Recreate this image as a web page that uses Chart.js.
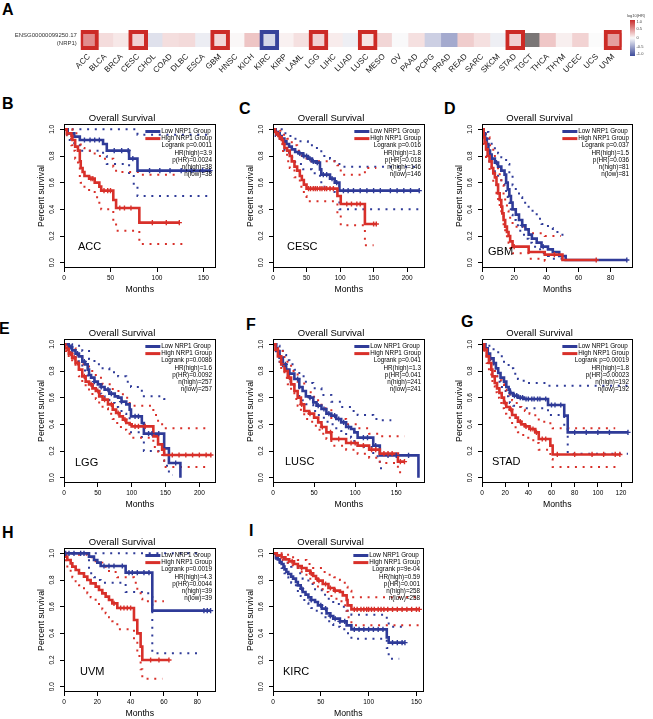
<!DOCTYPE html>
<html>
<head>
<meta charset="utf-8">
<title>NRP1 survival</title>
<script src="https://cdn.jsdelivr.net/npm/chart.js@4.4.1/dist/chart.umd.min.js"></script>
<style>
  html, body { margin: 0; padding: 0; background: #fff; }
  body { position: relative; width: 653px; height: 719px; overflow: hidden; font-family: "Liberation Sans", Arial, sans-serif; }
  canvas { position: absolute; }
  .tag { position: absolute; font-size: 16px; line-height: 16px; font-weight: bold; color: #000; }
</style>
</head>
<body>
<div class="tag" style="left:2px;top:2px">A</div>
<div class="tag" style="left:2px;top:96px">B</div>
<div class="tag" style="left:239px;top:101px">C</div>
<div class="tag" style="left:444px;top:101px">D</div>
<div class="tag" style="left:-1px;top:321px">E</div>
<div class="tag" style="left:246px;top:317px">F</div>
<div class="tag" style="left:461px;top:314px">G</div>
<div class="tag" style="left:2px;top:525px">H</div>
<div class="tag" style="left:249px;top:523px">I</div>

<canvas id="heat"></canvas>
<canvas id="pB"></canvas>
<canvas id="pC"></canvas>
<canvas id="pD"></canvas>
<canvas id="pE"></canvas>
<canvas id="pF"></canvas>
<canvas id="pG"></canvas>
<canvas id="pH"></canvas>
<canvas id="pI"></canvas>

<script>
// ---- panel A: log10(HR) of NRP1 per cancer type ----
const cancers = ['ACC', 'BLCA', 'BRCA', 'CESC', 'CHOL', 'COAD', 'DLBC', 'ESCA', 'GBM', 'HNSC', 'KICH',
  'KIRC', 'KIRP', 'LAML', 'LGG', 'LIHC', 'LUAD', 'LUSC', 'MESO', 'OV', 'PAAD', 'PCPG', 'PRAD', 'READ',
  'SARC', 'SKCM', 'STAD', 'TGCT', 'THCA', 'THYM', 'UCEC', 'UCS', 'UVM'];
const logHR = [0.53, 0.15, 0.09, 0.2, -0.15, 0.14, 0.16, -0.08, 0.18, 0.02, 0.26,
  -0.2, 0.05, 0.13, 0.2, 0.07, -0.07, 0.11, 0.18, -0.01, 0.13, -0.25, -0.46, 0.22,
  0.13, -0.07, 0.2, null, 0.25, 0.06, 0.19, 0.0, 0.45];
const sigHigh = ['ACC', 'CESC', 'GBM', 'LGG', 'LUSC', 'STAD', 'UVM'];
const sigLow = ['KIRC'];
const hrLegendTicks = [1, 0.5, 0, -0.5, -1];

// ---- KM curves: [months, survival] ----
const yTicks = [0, 0.2, 0.4, 0.6, 0.8, 1.0];

// ACC
const accXTicks = [0, 50, 100, 150];
const accLow = [[0,1],[4,0.97],[11,0.945],[17,0.92],[42,0.89],[46,0.84],[70,0.78],[79,0.69],[157,0.69]];
const accHigh = [[0,1],[3,0.97],[8,0.95],[9,0.92],[12,0.87],[15,0.84],[17,0.76],[18,0.71],[20,0.68],[22,0.65],[27,0.63],[33,0.60],[38,0.57],[40,0.54],[53,0.47],[56,0.41],[81,0.30],[124,0.30]];
const accLowUp = [[0,1],[70,1],[79,0.96],[157,0.96]];
const accLowDn = [[0,1],[4,0.92],[11,0.88],[17,0.84],[42,0.80],[46,0.74],[70,0.65],[75,0.58],[79,0.50],[157,0.50]];
const accHighUp = [[0,1],[9,0.99],[12,0.97],[15,0.95],[17,0.90],[18,0.86],[22,0.84],[33,0.80],[40,0.78],[53,0.72],[56,0.68],[81,0.66],[124,0.66]];
const accHighDn = [[0,1],[3,0.93],[8,0.88],[9,0.84],[12,0.78],[15,0.72],[17,0.64],[18,0.60],[20,0.58],[22,0.56],[27,0.53],[33,0.49],[38,0.44],[40,0.40],[53,0.31],[56,0.24],[81,0.14],[128,0.14]];
const accLowCens = [22,28,33,38,54,62,69,74,92,103,114,126,137,149,157];
const accHighCens = [29,31,43,47,50,60,65,72,95,110,124];
const accStats = ['Logrank p=0.0011', 'HR(high)=3.9', 'p(HR)=0.0024', 'n(high)=38', 'n(low)=38'];

// CESC
const cescXTicks = [0, 50, 100, 150, 200];
const cescLow = [[0,1],[4,0.98],[7,0.97],[10,0.95],[13,0.93],[17,0.91],[20,0.89],[24,0.87],[28,0.85],[33,0.83],[38,0.82],[45,0.80],[52,0.78],[58,0.76],[64,0.75],[70,0.70],[72,0.66],[85,0.63],[92,0.60],[99,0.54],[218,0.54]];
const cescHigh = [[0,1],[3,0.98],[5,0.97],[8,0.95],[10,0.94],[13,0.92],[15,0.89],[17,0.86],[21,0.84],[25,0.80],[28,0.76],[32,0.72],[36,0.69],[40,0.65],[43,0.62],[46,0.585],[50,0.555],[96,0.50],[101,0.44],[137,0.29],[154,0.29]];
const cescLowUp = [[0,1],[7,1],[13,0.97],[20,0.95],[28,0.93],[38,0.91],[52,0.88],[64,0.86],[72,0.80],[85,0.78],[92,0.76],[99,0.72],[218,0.72]];
const cescLowDn = [[0,1],[4,0.95],[10,0.90],[17,0.84],[24,0.79],[33,0.74],[45,0.70],[58,0.67],[70,0.62],[72,0.57],[85,0.53],[92,0.50],[99,0.40],[218,0.40]];
const cescHighUp = [[0,1],[5,1],[10,0.99],[15,0.96],[21,0.93],[28,0.88],[36,0.84],[43,0.80],[50,0.76],[96,0.73],[101,0.66],[137,0.71],[154,0.71]];
const cescHighDn = [[0,1],[5,0.93],[10,0.89],[15,0.82],[21,0.76],[25,0.71],[32,0.64],[40,0.57],[46,0.50],[50,0.46],[96,0.37],[101,0.28],[137,0.13],[150,0.13]];
const cescLowCens = [40,46,50,55,60,66,75,80,88,95,105,112,120,130,140,150,160,175,185,195,205,218];
const cescHighCens = [53,56,60,63,66,70,73,77,80,85,90,110,117,125,130,150,154];
const cescStats = ['Logrank p=0.016', 'HR(high)=1.8', 'p(HR)=0.018', 'n(high)=146', 'n(low)=146'];

// GBM
const gbmXTicks = [0, 20, 40, 60, 80];
const gbmLow = [[0,1],[1,0.97],[2,0.93],[3,0.89],[4,0.84],[5,0.81],[6,0.78],[8,0.75],[10,0.72],[12,0.69],[14,0.66],[15,0.60],[16,0.55],[17,0.50],[18,0.45],[19,0.40],[21,0.36],[23,0.32],[25,0.28],[27,0.25],[29,0.21],[31,0.18],[34,0.15],[37,0.12],[41,0.10],[44,0.08],[48,0.05],[52,0.02],[90,0.02]];
const gbmHigh = [[0,1],[1,0.94],[1.6,0.90],[2.5,0.85],[3.5,0.80],[4.7,0.76],[6,0.71],[7,0.67],[8,0.64],[9,0.585],[10,0.52],[11,0.47],[12,0.42],[12.6,0.37],[13.4,0.32],[14.4,0.27],[15.5,0.23],[16.5,0.20],[17.5,0.16],[19,0.12],[29,0.08],[39,0.06],[50,0.02],[71,0.02]];
const gbmLowUp = [[0,1],[2,0.98],[4,0.93],[6,0.88],[8,0.85],[10,0.82],[12,0.79],[15,0.74],[17,0.66],[19,0.58],[21,0.53],[23,0.49],[25,0.45],[29,0.39],[34,0.33],[37,0.29],[41,0.26],[44,0.23],[48,0.21],[50,0.16]];
const gbmLowDn = [[0,1],[1,0.92],[2,0.86],[3,0.80],[4,0.76],[6,0.71],[8,0.67],[10,0.63],[12,0.59],[14,0.55],[15,0.50],[16,0.45],[17,0.40],[18,0.36],[19,0.32],[21,0.28],[23,0.24],[25,0.21],[27,0.18],[29,0.15],[31,0.12],[34,0.10],[37,0.07],[41,0.05],[44,0.03],[50,0.03]];
const gbmHighUp = [[0,1],[1,0.99],[2.5,0.94],[4.7,0.88],[7,0.80],[9,0.74],[10,0.68],[11,0.63],[12,0.58],[13.4,0.50],[14.4,0.44],[15.5,0.39],[16.5,0.35],[17.5,0.31],[19,0.27],[29,0.22],[39,0.20],[49,0.20]];
const gbmHighDn = [[0,1],[1,0.88],[2.5,0.77],[4.7,0.68],[7,0.60],[9,0.52],[10,0.45],[11,0.40],[12,0.35],[13.4,0.27],[14.4,0.22],[15.5,0.18],[16.5,0.15],[17.5,0.11],[19,0.07],[29,0.03],[39,0.015],[40,0.015]];
const gbmLowCens = [9,25,38,90];
const gbmHighCens = [20,45,71];
const gbmStats = ['Logrank p=0.037', 'HR(high)=1.5', 'p(HR)=0.036', 'n(high)=81', 'n(low)=81'];

// LGG
const lggXTicks = [0, 50, 100, 150, 200];
const lggLow = [[0,1],[7,0.98],[12,0.955],[17,0.93],[22,0.91],[27,0.87],[31,0.85],[35,0.81],[37,0.77],[40,0.75],[45,0.72],[50,0.70],[55,0.68],[60,0.66],[67,0.63],[75,0.61],[80,0.60],[85,0.57],[92,0.55],[97,0.51],[99,0.46],[115,0.41],[118,0.33],[148,0.22],[155,0.11],[172,0]];
const lggHigh = [[0,1],[2,0.97],[7,0.93],[12,0.90],[17,0.86],[22,0.81],[27,0.76],[32,0.72],[37,0.70],[42,0.67],[47,0.65],[52,0.61],[57,0.585],[65,0.55],[72,0.51],[77,0.485],[82,0.46],[87,0.435],[92,0.41],[97,0.40],[100,0.385],[132,0.31],[139,0.25],[145,0.21],[148,0.17],[217,0.17]];
const lggLowUp = [[0,1],[12,0.99],[27,0.95],[37,0.89],[45,0.85],[55,0.82],[67,0.79],[80,0.76],[92,0.72],[99,0.68],[115,0.64],[118,0.61],[148,0.59],[150,0.59]];
const lggLowDn = [[0,1],[7,0.96],[12,0.93],[17,0.90],[22,0.87],[27,0.82],[31,0.79],[35,0.75],[37,0.71],[40,0.69],[45,0.66],[50,0.63],[55,0.61],[60,0.59],[67,0.56],[75,0.53],[80,0.52],[85,0.48],[92,0.46],[97,0.41],[99,0.34],[115,0.28],[118,0.20],[148,0.09],[155,0.02],[160,0.02]];
const lggHighUp = [[0,1],[7,0.97],[17,0.92],[27,0.85],[37,0.80],[47,0.75],[57,0.70],[72,0.65],[87,0.60],[97,0.56],[100,0.54],[132,0.47],[139,0.41],[145,0.38],[148,0.37],[217,0.37]];
const lggHighDn = [[0,1],[2,0.95],[7,0.90],[12,0.86],[17,0.82],[22,0.76],[27,0.71],[32,0.67],[37,0.64],[42,0.61],[47,0.59],[52,0.55],[57,0.52],[65,0.48],[72,0.44],[77,0.41],[82,0.38],[87,0.36],[92,0.34],[97,0.32],[100,0.30],[132,0.23],[139,0.17],[145,0.13],[148,0.08],[217,0.08]];
const lggLowCens = [10,20,30,45,55,65,70,85,105,110,125,130,140,165];
const lggHighCens = [5,10,15,20,30,40,50,60,70,80,90,105,110,120,160,170,180,190,200,210,217];
const lggStats = ['Logrank p=0.0086', 'HR(high)=1.6', 'p(HR)=0.0092', 'n(high)=257', 'n(low)=257'];

// LUSC
const luscXTicks = [0, 50, 100, 150];
const luscLow = [[0,1],[4,0.95],[8,0.90],[12,0.85],[16,0.81],[20,0.78],[26,0.74],[32,0.68],[36,0.65],[40,0.61],[45,0.60],[49,0.565],[53,0.54],[59,0.515],[65,0.48],[71,0.465],[77,0.44],[83,0.415],[89,0.38],[95,0.365],[99,0.34],[103,0.30],[122,0.24],[130,0.167],[177,0]];
const luscHigh = [[0,1],[3,0.96],[6,0.91],[10,0.85],[14,0.80],[18,0.75],[22,0.70],[26,0.65],[30,0.60],[34,0.55],[38,0.50],[44,0.48],[50,0.45],[55,0.415],[59,0.38],[65,0.34],[71,0.29],[89,0.26],[103,0.24],[117,0.21],[130,0.18],[152,0.12],[160,0.12]];
const luscLowUp = [[0,1],[4,0.99],[8,0.96],[12,0.92],[16,0.88],[20,0.85],[26,0.81],[32,0.76],[40,0.71],[49,0.67],[59,0.62],[71,0.57],[83,0.53],[95,0.50],[103,0.47],[122,0.44],[130,0.43],[144,0.43]];
const luscLowDn = [[0,1],[4,0.92],[8,0.86],[12,0.80],[16,0.76],[20,0.72],[26,0.67],[32,0.61],[36,0.58],[40,0.55],[49,0.50],[53,0.47],[59,0.45],[65,0.42],[71,0.40],[77,0.37],[83,0.35],[89,0.32],[95,0.30],[99,0.27],[103,0.23],[122,0.16],[130,0.07],[137,0.07]];
const luscHighUp = [[0,1],[6,0.95],[14,0.87],[22,0.80],[30,0.72],[38,0.64],[50,0.58],[59,0.52],[71,0.44],[89,0.40],[103,0.37],[117,0.33],[130,0.31],[160,0.31]];
const luscHighDn = [[0,1],[3,0.93],[6,0.87],[10,0.81],[14,0.75],[18,0.70],[22,0.64],[26,0.59],[30,0.54],[34,0.49],[38,0.44],[44,0.42],[50,0.39],[55,0.36],[59,0.33],[65,0.29],[71,0.24],[89,0.21],[103,0.18],[117,0.15],[130,0.11],[152,0.04],[160,0.04]];
const luscLowCens = [15,30,45,55,62,68,75,80,86,92,110,115,125,140,150,165];
const luscHighCens = [20,35,45,60,70,80,95,100,110,120,125,135,140,145,155,160];
const luscStats = ['Logrank p=0.041', 'HR(high)=1.3', 'p(HR)=0.041', 'n(high)=241', 'n(low)=241'];

// STAD
const stadXTicks = [0, 20, 40, 60, 80, 100, 120];
const stadLow = [[0,1],[3,0.97],[5,0.93],[7,0.895],[10,0.86],[12,0.82],[14,0.785],[16,0.75],[19,0.72],[21,0.68],[23,0.66],[24,0.635],[27,0.615],[31,0.60],[36,0.59],[57,0.545],[71,0.465],[74,0.34],[126,0.34]];
const stadHigh = [[0,1],[2,0.96],[4,0.91],[6,0.86],[8,0.81],[9,0.76],[11,0.71],[13,0.67],[15,0.635],[17,0.60],[19,0.56],[21,0.53],[24,0.51],[26,0.47],[29,0.45],[31,0.42],[34,0.40],[37,0.385],[41,0.365],[46,0.34],[49,0.29],[59,0.24],[61,0.174],[119,0.174]];
const stadLowUp = [[0,1],[5,0.99],[10,0.95],[14,0.91],[19,0.86],[23,0.82],[27,0.78],[31,0.74],[36,0.71],[57,0.69],[126,0.69]];
const stadLowDn = [[0,1],[3,0.94],[5,0.89],[7,0.85],[10,0.80],[12,0.76],[14,0.72],[16,0.68],[19,0.65],[21,0.61],[23,0.59],[24,0.56],[27,0.54],[31,0.53],[36,0.52],[57,0.47],[71,0.38],[74,0.18],[126,0.18]];
const stadHighUp = [[0,1],[2,0.99],[4,0.95],[6,0.91],[8,0.87],[11,0.80],[13,0.76],[15,0.73],[17,0.70],[19,0.66],[21,0.63],[24,0.61],[26,0.58],[29,0.56],[31,0.53],[34,0.51],[37,0.50],[41,0.48],[46,0.45],[49,0.42],[59,0.40],[61,0.37],[115,0.37]];
const stadHighDn = [[0,1],[2,0.92],[4,0.86],[6,0.80],[8,0.74],[9,0.69],[11,0.64],[13,0.60],[15,0.56],[17,0.52],[19,0.48],[21,0.45],[24,0.43],[26,0.39],[29,0.37],[31,0.34],[34,0.32],[37,0.30],[41,0.28],[46,0.26],[49,0.21],[59,0.14],[61,0.08],[119,0.08]];
const stadLowCens = [25,28,30,33,35,38,40,43,45,48,50,55,60,63,68,80,90,100,110,126];
const stadHighCens = [20,25,33,38,42,44,47,52,55,65,80,95,105,115,119];
const stadStats = ['Logrank p=0.00019', 'HR(high)=1.8', 'p(HR)=0.00023', 'n(high)=192', 'n(low)=192'];

// UVM
const uvmXTicks = [0, 20, 40, 60, 80];
const uvmLow = [[0,1],[15,0.975],[18,0.95],[20,0.93],[22,0.905],[37,0.855],[53,0.57],[88,0.57]];
const uvmHigh = [[0,1],[1,0.975],[2,0.95],[4,0.925],[5,0.90],[7,0.875],[9,0.85],[12,0.825],[14,0.80],[16,0.775],[19,0.75],[21,0.725],[23,0.70],[25,0.675],[27,0.65],[29,0.625],[32,0.59],[42,0.50],[44,0.40],[46,0.30],[47,0.20],[63,0.20]];
const uvmLowUp = [[0,1],[83,1]];
const uvmLowDn = [[0,1],[15,0.85],[18,0.82],[20,0.80],[22,0.78],[37,0.71],[48,0.70],[53,0.25],[83,0.25]];
const uvmHighUp = [[0,1],[9,0.99],[14,0.97],[19,0.93],[23,0.90],[27,0.86],[32,0.82],[42,0.78],[44,0.72],[46,0.66],[47,0.64],[60,0.64]];
const uvmHighDn = [[0,1],[1,0.93],[2,0.88],[4,0.85],[5,0.82],[7,0.79],[9,0.76],[12,0.73],[14,0.70],[16,0.67],[19,0.64],[21,0.61],[23,0.58],[25,0.55],[27,0.52],[29,0.49],[32,0.43],[42,0.33],[44,0.23],[46,0.13],[47,0.06],[59,0.06]];
const uvmLowCens = [1,3,6,10,12,24,27,30,35,39,41,44,48,51,84,86,88];
const uvmHighCens = [30,34,36,38,40,52,57,63];
const uvmStats = ['Logrank p=0.0019', 'HR(high)=4.3', 'p(HR)=0.0044', 'n(high)=39', 'n(low)=39'];

// KIRC
const kircXTicks = [0, 50, 100, 150];
const kircLow = [[0,1],[3,0.97],[5,0.955],[7,0.935],[9,0.92],[11,0.90],[12,0.88],[14,0.86],[16,0.845],[19,0.825],[21,0.81],[24,0.785],[26,0.76],[29,0.735],[31,0.71],[34,0.69],[37,0.67],[40,0.65],[44,0.635],[47,0.61],[51,0.585],[56,0.55],[60,0.53],[63,0.51],[70,0.49],[77,0.46],[82,0.43],[119,0.37],[121,0.33],[138,0.33]];
const kircHigh = [[0,1],[4,0.985],[9,0.97],[13,0.955],[17,0.94],[22,0.92],[26,0.905],[30,0.89],[35,0.87],[39,0.85],[42,0.83],[45,0.81],[47,0.795],[52,0.77],[58,0.74],[64,0.72],[70,0.71],[73,0.685],[77,0.65],[78,0.61],[82,0.58],[153,0.58]];
const kircLowUp = [[0,1],[5,0.98],[9,0.96],[14,0.93],[19,0.90],[26,0.85],[31,0.81],[37,0.77],[44,0.73],[51,0.69],[56,0.66],[63,0.62],[70,0.60],[77,0.57],[82,0.54],[119,0.50],[121,0.45],[138,0.45]];
const kircLowDn = [[0,1],[3,0.96],[5,0.93],[7,0.91],[9,0.89],[11,0.87],[12,0.85],[14,0.82],[16,0.80],[19,0.78],[21,0.76],[24,0.73],[26,0.70],[29,0.68],[31,0.65],[34,0.63],[37,0.61],[40,0.59],[44,0.57],[47,0.55],[51,0.52],[56,0.49],[60,0.47],[63,0.45],[70,0.43],[77,0.40],[82,0.36],[119,0.29],[121,0.21],[132,0.21]];
const kircHighUp = [[0,1],[9,0.99],[17,0.97],[26,0.95],[35,0.92],[42,0.89],[52,0.86],[58,0.84],[64,0.82],[70,0.80],[73,0.78],[77,0.75],[78,0.72],[82,0.67],[153,0.67]];
const kircHighDn = [[0,1],[4,0.97],[9,0.95],[13,0.93],[17,0.91],[22,0.89],[26,0.87],[30,0.85],[35,0.83],[39,0.80],[42,0.78],[45,0.76],[47,0.74],[52,0.71],[58,0.68],[64,0.66],[70,0.64],[73,0.61],[77,0.57],[78,0.52],[82,0.46],[153,0.46]];
const kircLowCens = [30,40,50,55,60,65,70,75,85,90,95,100,105,110,115,125,130,135,138];
const kircHighCens = [20,30,40,48,55,60,65,85,88,92,95,98,100,103,106,110,113,116,120,125,130,135,140,145,150,153];
const kircStats = ['Logrank p=9e-04', 'HR(high)=0.59', 'p(HR)=0.001', 'n(high)=258', 'n(low)=258'];

// ---- styling ----
const FONT = '"Liberation Sans", Arial, sans-serif';
const LOW_COLOR = '#2f3b98';
const HIGH_COLOR = '#d8302a';
Chart.defaults.font.family = FONT;
Chart.defaults.color = '#000';

function hrColor(v) {
  if (v === null) return '#7a7676';
  const t = Math.max(-1, Math.min(1, v));
  const end = t > 0 ? [201, 43, 43] : [61, 75, 154];
  const a = Math.abs(t);
  const rgb = [251, 251, 251].map((b, i) => Math.round(b + (end[i] - b) * a));
  return `rgb(${rgb.join(',')})`;
}

// heatmap strip, one bar per cancer type
const heatExtras = {
  id: 'heatExtras',
  afterDraw(chart) {
    const ctx = chart.ctx;
    const a = chart.chartArea;
    const mid = (a.top + a.bottom) / 2;
    ctx.save();
    ctx.fillStyle = '#333';
    ctx.font = `6px ${FONT}`;
    ctx.textAlign = 'right';
    ctx.textBaseline = 'middle';
    ctx.fillText('ENSG00000099250.17', a.left - 4, mid - 5);
    ctx.fillText('(NRP1)', a.left - 4, mid + 3);

    // colour key
    const kx = 630, kw = 5, ky = 20, kh = 36;
    const g = ctx.createLinearGradient(0, ky, 0, ky + kh);
    g.addColorStop(0, hrColor(1));
    g.addColorStop(0.5, hrColor(0));
    g.addColorStop(1, hrColor(-1));
    ctx.fillStyle = g;
    ctx.fillRect(kx, ky, kw, kh);
    ctx.fillStyle = '#444';
    ctx.font = `4px ${FONT}`;
    ctx.textAlign = 'center';
    ctx.fillText('log10(HR)', kx + 6, ky - 4);
    ctx.textAlign = 'left';
    hrLegendTicks.forEach(v => {
      const y = ky + (1 - v) / 2 * kh;
      ctx.fillText(v === 0 ? '0' : v.toFixed(1), kx + kw + 1.5, Math.min(Math.max(y, ky + 2), ky + kh - 2));
    });
    ctx.restore();
  }
};

const heatCanvas = document.getElementById('heat');
heatCanvas.width = 653;
heatCanvas.height = 95;
heatCanvas.style.left = '0px';
heatCanvas.style.top = '0px';
new Chart(heatCanvas, {
  type: 'bar',
  data: {
    labels: cancers,
    datasets: [
      {
        data: cancers.map(() => 1),
        backgroundColor: logHR.map(hrColor),
        borderWidth: 0,
        barPercentage: 1,
        categoryPercentage: 1,
        grouped: false,
        yAxisID: 'y',
        order: 2
      },
      {
        data: cancers.map(c => (sigHigh.includes(c) || sigLow.includes(c)) ? 1 : null),
        backgroundColor: 'rgba(0,0,0,0)',
        borderColor: cancers.map(c => sigLow.includes(c) ? '#37449a' : '#cc2b26'),
        borderWidth: 4,
        borderSkipped: false,
        barPercentage: 1.2,
        categoryPercentage: 1,
        grouped: false,
        yAxisID: 'y2',
        order: 1
      }
    ]
  },
  options: {
    responsive: false,
    animation: false,
    devicePixelRatio: 1,
    events: [],
    layout: { padding: { left: 80.8, right: 31.3, top: 30, bottom: 0 } },
    plugins: { legend: { display: false }, tooltip: { enabled: false } },
    scales: {
      x: {
        grid: { display: false, drawTicks: false },
        border: { display: false },
        ticks: { minRotation: 45, maxRotation: 45, autoSkip: false, padding: 2, color: '#222', font: { size: 8 } },
        afterFit: s => { s.height = 45; }
      },
      y: { display: false, min: -0.25, max: 1.25 },
      y2: { display: false, min: 0, max: 1 }
    }
  },
  plugins: [heatExtras]
});

// ---- Kaplan-Meier panels ----
function survAt(curve, t) {
  let s = curve[0][1];
  for (const [x, y] of curve) {
    if (x <= t) s = y; else break;
  }
  return s;
}
const xy = pts => pts.map(([x, y]) => ({ x, y }));

function stepLine(pts, color, width, dash, order) {
  return {
    data: xy(pts),
    borderColor: color,
    borderWidth: width,
    borderDash: dash,
    borderCapStyle: 'butt',
    stepped: true,
    pointRadius: 0,
    fill: false,
    order
  };
}
function censMarks(times, curve, color) {
  return {
    data: times.map(t => ({ x: t, y: survAt(curve, t) })),
    showLine: false,
    pointStyle: 'cross',
    pointRadius: 2.6,
    pointBorderWidth: 1.4,
    pointBorderColor: color,
    borderColor: color,
    order: 0
  };
}

function notes(p) {
  return {
    id: 'kmNotes',
    afterDatasetsDraw(chart) {
      const ctx = chart.ctx;
      const a = chart.chartArea;
      ctx.save();
      ctx.strokeStyle = '#000';
      ctx.lineWidth = 1;
      ctx.strokeRect(Math.round(a.left) + 0.5, Math.round(a.top) + 0.5,
        Math.round(a.right - a.left) - 1, Math.round(a.bottom - a.top) - 1);

      ctx.font = `6.3px ${FONT}`;
      ctx.textBaseline = 'middle';
      const xr = a.right - 3.5;
      const step = 7.1;
      let y = a.top + 7.5;
      const names = ['Low NRP1 Group', 'High NRP1 Group'];
      const cols = [LOW_COLOR, HIGH_COLOR];
      const w = Math.max(...names.map(n => ctx.measureText(n).width));
      const tx = xr - w;
      names.forEach((n, i) => {
        ctx.strokeStyle = cols[i];
        ctx.lineWidth = 3;
        ctx.beginPath();
        ctx.moveTo(tx - 16, y);
        ctx.lineTo(tx - 1, y);
        ctx.stroke();
        ctx.fillStyle = '#000';
        ctx.textAlign = 'left';
        ctx.fillText(n, tx, y);
        y += step;
      });
      ctx.textAlign = 'right';
      p.stats.forEach(s => { ctx.fillText(s, xr, y); y += step; });

      ctx.font = `11px ${FONT}`;
      ctx.textAlign = 'left';
      ctx.fillText(p.cancer, a.left + p.labelDx, a.bottom + p.labelDy);
      ctx.restore();
    }
  };
}

function kmPanel(p) {
  const [L, T, R, B] = p.box;
  const yW = 36, titleH = 12, xH = 28, padR = 5;
  const cv = document.getElementById(p.id);
  cv.width = R - L + yW + padR;
  cv.height = B - T + titleH + xH;
  cv.style.left = (L - yW) + 'px';
  cv.style.top = (T - titleH) + 'px';

  new Chart(cv, {
    type: 'line',
    data: {
      datasets: [
        censMarks(p.highCens, p.high, HIGH_COLOR),
        censMarks(p.lowCens, p.low, LOW_COLOR),
        stepLine(p.high, HIGH_COLOR, 2.6, [], 1),
        stepLine(p.low, LOW_COLOR, 2.6, [], 2),
        stepLine(p.highUp, HIGH_COLOR, 2, [2, 5.7], 3),
        stepLine(p.highDn, HIGH_COLOR, 2, [2, 5.7], 3),
        stepLine(p.lowUp, LOW_COLOR, 2, [2, 5.7], 3),
        stepLine(p.lowDn, LOW_COLOR, 2, [2, 5.7], 3)
      ]
    },
    options: {
      responsive: false,
      animation: false,
      devicePixelRatio: 1,
      events: [],
      layout: { padding: { top: 0, right: padR, bottom: 0, left: 0 } },
      plugins: {
        legend: { display: false },
        tooltip: { enabled: false },
        title: {
          display: true,
          text: 'Overall Survival',
          color: '#000',
          font: { size: 9.5, weight: 'normal', lineHeight: 1.2 },
          padding: { top: 0.6, bottom: 0 }
        }
      },
      scales: {
        x: {
          type: 'linear',
          min: 0,
          max: p.xMax,
          afterBuildTicks: s => { s.ticks = p.xTicks.map(v => ({ value: v })); },
          ticks: { autoSkip: false, maxRotation: 0, padding: 2, font: { size: 6.5 }, color: '#000' },
          grid: { display: true, drawOnChartArea: false, drawTicks: true, tickLength: 4, color: '#000' },
          border: { display: false },
          title: { display: true, text: 'Months', color: '#000', font: { size: 8.7 }, padding: { top: 0, bottom: 0.8 } },
          afterFit: s => { s.height = xH; }
        },
        y: {
          min: -0.04,
          max: 1.04,
          afterBuildTicks: s => { s.ticks = yTicks.map(v => ({ value: v })); },
          ticks: {
            callback: v => Number(v).toFixed(1),
            minRotation: 90,
            maxRotation: 90,
            crossAlign: 'center',
            padding: 3,
            font: { size: 6.5 },
            color: '#000'
          },
          grid: { display: true, drawOnChartArea: false, drawTicks: true, tickLength: 4, color: '#000' },
          border: { display: false },
          title: { display: true, text: 'Percent survival', color: '#000', font: { size: 8.7 }, padding: { top: 8.3, bottom: 0 } },
          afterFit: s => { s.width = yW; }
        }
      }
    },
    plugins: [notes(p)]
  });
}

[
  { id: 'pB', box: [64, 124, 216, 268], xMax: 163, xTicks: accXTicks, low: accLow, high: accHigh,
    lowUp: accLowUp, lowDn: accLowDn, highUp: accHighUp, highDn: accHighDn,
    lowCens: accLowCens, highCens: accHighCens, stats: accStats, cancer: 'ACC', labelDx: 14, labelDy: -21 },
  { id: 'pC', box: [273, 124, 425, 268], xMax: 226, xTicks: cescXTicks, low: cescLow, high: cescHigh,
    lowUp: cescLowUp, lowDn: cescLowDn, highUp: cescHighUp, highDn: cescHighDn,
    lowCens: cescLowCens, highCens: cescHighCens, stats: cescStats, cancer: 'CESC', labelDx: 14, labelDy: -21 },
  { id: 'pD', box: [482, 124, 633, 268], xMax: 93.6, xTicks: gbmXTicks, low: gbmLow, high: gbmHigh,
    lowUp: gbmLowUp, lowDn: gbmLowDn, highUp: gbmHighUp, highDn: gbmHighDn,
    lowCens: gbmLowCens, highCens: gbmHighCens, stats: gbmStats, cancer: 'GBM', labelDx: 6, labelDy: -16 },
  { id: 'pE', box: [64, 339, 216, 483], xMax: 224, xTicks: lggXTicks, low: lggLow, high: lggHigh,
    lowUp: lggLowUp, lowDn: lggLowDn, highUp: lggHighUp, highDn: lggHighDn,
    lowCens: lggLowCens, highCens: lggHighCens, stats: lggStats, cancer: 'LGG', labelDx: 11, labelDy: -20 },
  { id: 'pF', box: [273, 339, 425, 483], xMax: 184.5, xTicks: luscXTicks, low: luscLow, high: luscHigh,
    lowUp: luscLowUp, lowDn: luscLowDn, highUp: luscHighUp, highDn: luscHighDn,
    lowCens: luscLowCens, highCens: luscHighCens, stats: luscStats, cancer: 'LUSC', labelDx: 12, labelDy: -21 },
  { id: 'pG', box: [482, 339, 633, 483], xMax: 130, xTicks: stadXTicks, low: stadLow, high: stadHigh,
    lowUp: stadLowUp, lowDn: stadLowDn, highUp: stadHighUp, highDn: stadHighDn,
    lowCens: stadLowCens, highCens: stadHighCens, stats: stadStats, cancer: 'STAD', labelDx: 10, labelDy: -21 },
  { id: 'pH', box: [64, 548, 216, 692], xMax: 91, xTicks: uvmXTicks, low: uvmLow, high: uvmHigh,
    lowUp: uvmLowUp, lowDn: uvmLowDn, highUp: uvmHighUp, highDn: uvmHighDn,
    lowCens: uvmLowCens, highCens: uvmHighCens, stats: uvmStats, cancer: 'UVM', labelDx: 16, labelDy: -20 },
  { id: 'pI', box: [273, 548, 424, 692], xMax: 157.5, xTicks: kircXTicks, low: kircLow, high: kircHigh,
    lowUp: kircLowUp, lowDn: kircLowDn, highUp: kircHighUp, highDn: kircHighDn,
    lowCens: kircLowCens, highCens: kircHighCens, stats: kircStats, cancer: 'KIRC', labelDx: 10, labelDy: -20 }
].forEach(kmPanel);
</script>
</body>
</html>
